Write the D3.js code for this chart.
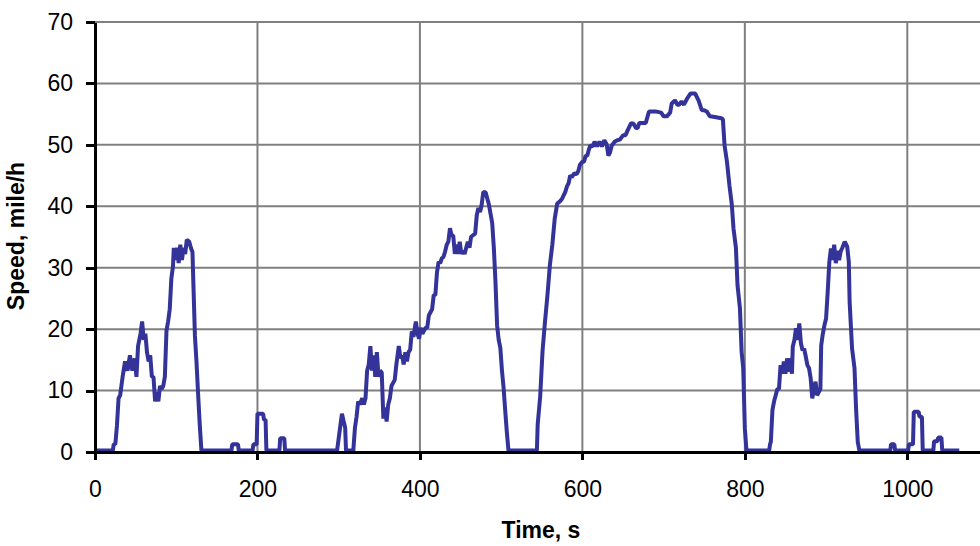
<!DOCTYPE html>
<meta charset="utf-8">
<style>
body { margin: 0; background: #fff; }
svg { display: block; font-family: "Liberation Sans", Arial, sans-serif; }
.grid line { stroke: #808080; stroke-width: 2px; }
.axis path, .axis line { stroke: #000; stroke-width: 3px; shape-rendering: crispEdges; }
.axis text { font-size: 23px; fill: #000; }
.title { font-size: 23px; font-weight: bold; fill: #000; }
.line { fill: none; stroke: #333399; stroke-width: 4px; stroke-linejoin: bevel; }
</style>
<svg width="980" height="546"></svg>
<script src="https://cdn.jsdelivr.net/npm/d3@7"></script>
<script>
// speed trace (time in s, speed in mile/h)
var time = [
  0, 22, 23, 25, 27, 29, 31, 34, 37, 40, 43, 46, 49, 51, 53, 56, 58, 60, 62, 64,
  66, 68, 70, 72, 74, 76, 78, 80, 82, 84, 86, 88, 90, 92, 94, 96, 97, 99, 101, 103,
  105, 107, 109, 111, 113, 116, 118, 120, 121, 123, 125, 127, 129, 131,
  168, 169, 176, 177, 194, 195, 199, 200, 207, 208, 210, 211, 227, 228, 233, 234,
  298, 300, 302, 304, 306, 308, 309, 318, 320, 322, 324, 326, 329, 331, 333, 335, 337, 339, 341, 343,
  345, 347, 349, 351, 353, 355, 357, 359, 361, 363, 365, 367, 369, 371, 374, 376, 378, 380, 382, 384,
  386, 388, 390, 392, 395, 397, 399, 401, 403, 405, 407, 409, 411, 413, 415, 417, 419, 421, 423, 425,
  427, 429, 431, 433, 435, 437, 439, 441, 443, 445, 447, 449, 451, 453, 455, 457, 459, 461, 463, 465,
  468, 470, 472, 474, 476, 478, 481, 483, 485, 487, 489, 491, 493, 495, 497, 499, 501, 503, 505, 507, 509,
  544, 545, 548, 551, 554, 557, 560, 563, 566, 569, 572, 575, 579, 581, 583, 585, 587, 590, 593, 595,
  597, 600, 602, 604, 606, 608, 610, 613, 615, 618, 621, 624, 627, 630, 632, 634, 636, 640, 643, 646,
  650, 653, 656, 660, 663, 666, 668, 670, 678, 682, 690, 697, 700, 704, 708, 710, 714, 717, 719, 722,
  725, 729, 733, 739, 741, 743, 747, 750, 753, 757, 763, 771, 773, 775, 778, 781, 784, 786, 789, 791,
  794, 796, 798, 800, 802,
  830, 831, 832, 834, 836, 838, 840, 842, 844, 846, 848, 850, 852, 854, 856, 858, 859, 861, 863, 865,
  867, 869, 871, 873, 875, 877, 879, 881, 883, 885, 887, 889, 891, 893, 894, 896, 898, 900, 902, 904,
  906, 908, 910, 912, 914, 916, 918, 920, 923, 926, 928, 929, 932, 935, 937, 939, 941,
  979, 980, 984, 985, 1001, 1002, 1007, 1008, 1014, 1015, 1018, 1019, 1032, 1033, 1037, 1038, 1042, 1043, 1064
];
var speed = [
  0, 0, 1, 1, 4, 8.5, 9, 12, 14.5, 13, 15.5, 13, 15, 12, 17, 19, 21, 18, 19, 16,
  14.5, 15.5, 12, 12, 8, 9.5, 8, 10.5, 10, 10.5, 12, 19.5, 21, 23, 28, 30, 33, 31, 33, 30.5,
  33.5, 31, 33, 32, 34.3, 34, 33, 32.3, 27.7, 18.7, 14.3, 9, 4.1, 0,
  0, 1, 1, 0, 0, 1, 1, 6, 6, 5, 5, 0, 0, 2, 2, 0,
  0, 2, 4, 6, 4.8, 3.7, 0, 0, 3.7, 5.5, 8, 7.5, 8.5, 7.5, 8.5, 13, 14, 17, 13, 15.5,
  12, 16, 12, 13, 12.7, 5.2, 7, 4.7, 7.5, 8.5, 10.5, 11, 11.5, 14, 17, 15, 15.5, 14, 16, 14.5,
  16, 16.4, 19.4, 18.5, 21, 19, 18.2, 20, 19, 19.5, 20, 20, 22, 22.5, 23, 25.3, 25.3, 29, 30.7, 30.5,
  31.3, 31.5, 32.4, 33.5, 34, 36.2, 35, 35, 32, 33.5, 32, 34, 32, 32.5, 32, 33, 34, 33, 34.8, 35,
  35.3, 38.3, 39.5, 38.8, 40, 42.1, 42, 41, 40, 38.5, 37, 33, 27.5, 20.4, 18, 16.7, 13, 10.2, 6.5, 3, 0,
  0, 4.3, 8.7, 16.3, 21, 25.3, 30.2, 33.5, 37.8, 40.2, 40.5, 41, 42.1, 43, 43.5, 44.8, 44.5, 45.1, 45, 45.5,
  46.5, 47, 47, 48, 48, 49, 49.7, 49.5, 50.3, 49.5, 50.3, 49.5, 50.5, 49.8, 48, 48.5, 49.6, 50.3, 50.5, 50.6,
  51.3, 51.3, 52.2, 53.3, 53.2, 52.5, 52.5, 53.3, 53.3, 55.2, 55.2, 55, 54.4, 54.4, 55, 56.5, 57, 56.3, 56.3, 56.8,
  56.3, 57.3, 58.1, 58.1, 57.5, 57, 55.4, 55.4, 55.2, 54.4, 54.3, 54.1, 53.9, 49.7, 47, 43.2, 40, 36.2, 33, 26.9,
  23.1, 16.1, 13.4, 3.6, 0,
  0, 1, 1.4, 6.6, 8, 9, 10, 10, 13.9, 12.5, 14.5, 12.5, 15, 12.8, 15, 12.5, 16.9, 18, 19.9, 18,
  20.7, 17.5, 16.3, 16.6, 15.3, 13.9, 13.4, 11.8, 8.5, 10, 11.2, 9, 9.5, 10, 17.1, 19, 20.4, 21.5, 25.8, 30.7,
  32.9, 31, 33.5, 30.5, 32.5, 31, 32.4, 33, 34, 33.2, 30.7, 24.2, 16.6, 13.4, 6.6, 1.4, 0,
  0, 1, 1, 0, 0, 1, 1, 6.3, 6.3, 5.5, 5.5, 0, 0, 1.5, 1.5, 2.1, 2.1, 0, 0
];
var xTicks = [0, 200, 400, 600, 800, 1000];
var yTicks = [0, 10, 20, 30, 40, 50, 60, 70];

var data = time.map(function(t, i) { return {t: t, v: speed[i]}; });

var svg = d3.select("svg"),
    plotLeft = 95, plotTop = 22, plotBottom = 452;

var x = d3.scaleLinear()
    .domain([0, 1100])
    .range([plotLeft, plotLeft + 1100 * 0.8123]);
var y = d3.scaleLinear()
    .domain([0, 70])
    .range([plotBottom, plotTop]);

// grid
var grid = svg.append("g").attr("class", "grid");
grid.selectAll("line.h")
  .data(yTicks.filter(function(d) { return d > 0; }))
  .enter().append("line")
    .attr("class", "h")
    .attr("x1", plotLeft)
    .attr("x2", 980)
    .attr("y1", function(d) { return y(d); })
    .attr("y2", function(d) { return y(d); });
grid.selectAll("line.v")
  .data(xTicks.filter(function(d) { return d > 0; }))
  .enter().append("line")
    .attr("class", "v")
    .attr("x1", function(d) { return x(d); })
    .attr("x2", function(d) { return x(d); })
    .attr("y1", plotTop)
    .attr("y2", plotBottom);

// speed line
var line = d3.line()
    .x(function(d) { return x(d.t); })
    .y(function(d) { return y(d.v); });

svg.append("path")
    .datum(data)
    .attr("class", "line")
    .attr("transform", "translate(0,-1.5)")
    .attr("d", line);

// axes
var gx = svg.append("g")
    .attr("class", "axis")
    .attr("transform", "translate(0," + plotBottom + ")")
    .call(d3.axisBottom(x).tickValues(xTicks).tickFormat(d3.format("d"))
      .tickSize(8).tickSizeOuter(0));
gx.selectAll("text").attr("y", 45).attr("dy", null);

var gy = svg.append("g")
    .attr("class", "axis")
    .attr("transform", "translate(" + plotLeft + ",0)")
    .call(d3.axisLeft(y).tickValues(yTicks).tickSize(9).tickSizeOuter(0));
gy.selectAll("text").attr("x", -22);

// titles
svg.append("text")
    .attr("class", "title")
    .attr("x", 541)
    .attr("y", 538)
    .attr("text-anchor", "middle")
    .text("Time, s");

svg.append("text")
    .attr("class", "title")
    .attr("transform", "translate(24,236) rotate(-90)")
    .attr("text-anchor", "middle")
    .text("Speed, mile/h");
</script>
